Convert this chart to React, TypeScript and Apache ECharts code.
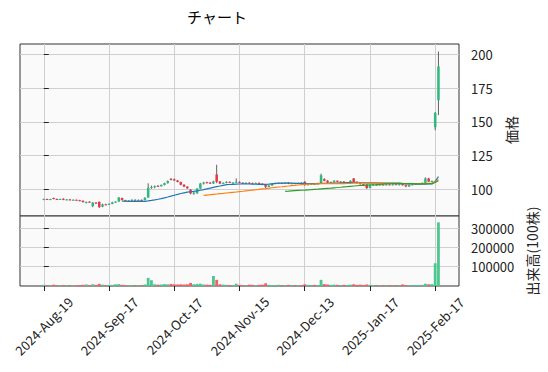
import React, { useEffect, useRef } from 'react';
import * as echarts from 'echarts';

// ---- data (trading-day index 0..121) ----
const opens = [
  92.4, 92.9, 92.4, 93.6, 92.9, 92.6, 93.1, 92.3, 92.6, 92.1,
  92.3, 92.0, 91.6, 90.2, 90.9, 87.6, 90.2, 90.8, 87.2, 88.9,
  88.7, 89.3, 90.4, 91.0, 93.6, 92.0, 91.4, 91.7, 92.3, 91.9,
  92.2, 92.0, 94.0, 101.0, 101.7, 102.6, 102.3, 103.3, 104.6, 107.8,
  107.4, 106.6, 105.4, 103.4, 102.0, 99.8, 96.8, 97.2, 100.6, 104.3,
  105.3, 105.0, 104.4, 111.0, 105.9, 104.3, 104.9, 105.6, 104.9, 105.1,
  105.6, 104.9, 104.5, 104.9, 104.6, 104.3, 104.8, 104.2, 103.4, 101.9,
  102.9, 104.3, 104.2, 104.7, 104.5, 105.1, 104.2, 104.6, 104.3, 104.8,
  105.6, 103.2, 103.9, 104.2, 103.9, 104.6, 107.6, 106.4, 105.0, 105.3,
  106.4, 105.6, 105.8, 104.9, 105.2, 108.1, 105.6, 104.5, 103.9, 103.6,
  101.0, 103.2, 103.5, 103.3, 103.6, 103.4, 103.7, 103.4, 103.8, 103.5,
  103.9, 103.1, 102.2, 103.4, 103.8, 104.2, 104.5, 104.9, 108.1, 105.8,
  146.0, 166.0,
];
const highs = [
  93.2, 93.1, 93.0, 93.9, 93.2, 93.1, 93.4, 92.8, 92.9, 92.6,
  92.5, 92.3, 91.8, 91.0, 91.2, 90.6, 90.6, 91.0, 89.4, 89.4,
  89.6, 90.8, 91.2, 94.3, 93.9, 92.3, 92.0, 92.6, 92.6, 92.5,
  92.6, 94.2, 104.5, 102.8, 102.9, 103.2, 103.6, 104.9, 106.6, 108.4,
  108.0, 107.0, 105.8, 103.9, 102.4, 100.2, 98.0, 100.9, 104.8, 105.6,
  105.7, 105.5, 106.4, 118.2, 106.3, 105.2, 106.0, 105.9, 105.4, 108.1,
  105.9, 105.3, 105.2, 105.4, 105.0, 105.1, 105.2, 104.6, 103.8, 103.2,
  104.6, 104.9, 105.0, 105.1, 105.4, 105.3, 104.9, 105.0, 105.0, 105.2,
  106.0, 104.2, 104.6, 104.6, 104.9, 111.6, 108.2, 106.9, 105.8, 106.8,
  106.6, 106.2, 106.1, 105.5, 106.8, 108.4, 105.8, 105.0, 104.3, 104.0,
  103.5, 103.9, 104.0, 103.8, 104.1, 103.9, 104.2, 104.0, 104.3, 104.1,
  104.2, 103.4, 103.6, 104.1, 104.5, 104.8, 105.1, 108.9, 108.6, 106.6,
  157.2, 202.0,
];
const lows = [
  92.0, 92.2, 92.1, 92.6, 92.3, 92.2, 92.0, 91.9, 91.8, 91.8,
  91.7, 91.2, 90.2, 89.6, 90.2, 86.8, 89.2, 86.2, 86.8, 88.4,
  88.5, 89.0, 90.0, 90.8, 91.8, 91.1, 91.0, 91.3, 91.6, 91.6,
  91.8, 91.9, 93.8, 100.4, 100.8, 101.8, 102.1, 102.9, 104.3, 106.6,
  106.2, 105.2, 103.0, 101.6, 100.4, 96.3, 96.0, 96.6, 100.2, 103.6,
  104.4, 104.0, 104.0, 104.6, 103.9, 103.9, 104.5, 104.6, 104.2, 104.8,
  104.6, 104.2, 104.1, 104.3, 103.9, 104.0, 103.9, 103.0, 101.0, 101.6,
  102.6, 103.9, 104.0, 104.2, 104.2, 103.9, 103.8, 104.1, 104.0, 104.3,
  102.7, 102.9, 103.5, 103.6, 103.6, 104.4, 106.0, 104.6, 104.5, 105.0,
  105.2, 105.2, 104.6, 104.5, 105.0, 105.3, 104.2, 103.6, 102.9, 100.4,
  100.8, 102.8, 102.9, 102.8, 103.0, 102.9, 103.1, 102.9, 103.2, 102.9,
  102.7, 101.6, 101.8, 103.0, 103.3, 103.8, 104.0, 104.6, 105.4, 105.3,
  143.8, 155.0,
];
const closes = [
  92.9, 92.4, 92.8, 92.9, 92.6, 92.9, 92.3, 92.6, 92.1, 92.3,
  92.0, 91.6, 90.6, 90.7, 90.5, 90.2, 89.6, 86.9, 88.9, 88.7,
  89.3, 90.4, 90.9, 94.0, 92.0, 91.4, 91.7, 92.3, 91.9, 92.2,
  92.0, 93.8, 101.2, 101.7, 102.3, 102.3, 103.3, 104.6, 106.2, 107.0,
  106.6, 105.5, 103.4, 102.0, 100.8, 97.0, 97.6, 100.6, 104.3, 105.0,
  104.8, 104.4, 105.9, 105.6, 104.3, 104.9, 105.6, 104.9, 105.1, 105.6,
  104.9, 104.5, 104.9, 104.6, 104.3, 104.8, 104.2, 103.4, 101.9, 102.9,
  104.3, 104.6, 104.7, 104.5, 105.1, 104.2, 104.6, 104.3, 104.8, 104.6,
  103.2, 103.9, 104.2, 103.9, 104.6, 110.4, 106.4, 105.0, 105.3, 106.4,
  105.6, 105.8, 104.9, 105.2, 106.4, 105.6, 104.5, 103.9, 103.2, 100.9,
  103.2, 103.5, 103.3, 103.6, 103.4, 103.7, 103.4, 103.8, 103.5, 103.9,
  103.1, 102.2, 103.4, 103.8, 104.2, 104.5, 104.8, 108.1, 105.8, 106.2,
  156.6, 191.0,
];
const volumes = [
  6000, 5000, 4000, 7000, 4000, 3000, 5000, 4000, 3000, 3000,
  4000, 5000, 6000, 8000, 5000, 9000, 6000, 11000, 7000, 4000,
  5000, 6000, 9000, 10000, 6000, 4000, 3000, 4000, 3000, 4000,
  3000, 8000, 42000, 30000, 9000, 7000, 8000, 10000, 9000, 11000,
  9000, 8000, 9000, 8000, 9000, 16000, 9000, 11000, 12000, 8000,
  7000, 6000, 52000, 32000, 9000, 7000, 6000, 5000, 5000, 12000,
  6000, 5000, 4000, 7000, 6000, 5000, 6000, 7000, 14000, 6000,
  5000, 4000, 6000, 4000, 5000, 6000, 5000, 4000, 5000, 4000,
  9000, 6000, 5000, 6000, 5000, 32000, 10000, 8000, 6000, 7000,
  6000, 5000, 6000, 5000, 7000, 9000, 6000, 7000, 5000, 8000,
  6000, 4000, 3000, 4000, 3000, 3000, 4000, 3000, 4000, 3000,
  8000, 5000, 4000, 3000, 4000, 5000, 6000, 12000, 9000, 10000,
  118000, 330000,
];

const tickIndices = [0, 20, 40, 60, 80, 100, 120];
const tickLabels = ['2024-Aug-19', '2024-Sep-17', '2024-Oct-17', '2024-Nov-15', '2024-Dec-13', '2025-Jan-17', '2025-Feb-17'];
const priceTicks = [100, 125, 150, 175, 200];
const volumeTicks = [100000, 200000, 300000];
const maPeriods = [25, 50, 75];

// ---- styles ----
const FONT = '"Noto Sans CJK JP", "Noto Sans", sans-serif';
const UP = '#2fb97f';
const DOWN = '#ec3646';
const WICK = '#505050';
const VUP = '#4dc790';
const VDOWN = '#f45f66';
const MA_COLORS = ['#1f77b4', '#ff7f0e', '#2ca02c'];
const GRID_LINE = '#cfcfcf';
const FRAME = '#333333';
const TEXT = '#222222';
const X_MIN = -7.3;
const X_MAX = 127.3;

function movingAverage(period: number): number[][] {
  const out: number[][] = [];
  for (let i = period - 1; i < closes.length; i++) {
    let s = 0;
    for (let k = i - period + 1; k <= i; k++) s += closes[k];
    out.push([i, s / period]);
  }
  return out;
}

export default function App() {
  const ref = useRef<HTMLDivElement>(null);
  useEffect(() => {
    if (!ref.current) return;
    const chart = echarts.init(ref.current, undefined, { renderer: 'svg' });
    const candleData = closes.map((c, i) => [i, opens[i], c, lows[i], highs[i]]);
    const volData = volumes.map((v, i) => ({
      value: [i, v],
      itemStyle: { color: closes[i] >= opens[i] ? VUP : VDOWN },
    }));
    const splitLine = { show: true, lineStyle: { color: GRID_LINE, width: 1 } };
    chart.setOption({
      animation: false,
      backgroundColor: '#ffffff',
      textStyle: { fontFamily: FONT },
      graphic: [
        {
          type: 'text', x: 217, y: 16,
          style: { text: 'チャート', align: 'center', verticalAlign: 'middle', fontSize: 15, fontFamily: FONT, fill: '#000' },
        },
      ],
      grid: [
        { left: 20, top: 44, width: 439, height: 172, show: true, backgroundColor: '#fafafa', borderColor: FRAME, borderWidth: 1 },
        { left: 20, top: 216, width: 439, height: 70, show: true, backgroundColor: '#fafafa', borderColor: FRAME, borderWidth: 1 },
      ],
      xAxis: [
        {
          type: 'value', gridIndex: 0, min: X_MIN, max: X_MAX,
          axisLine: { show: false },
          axisTick: { show: false, customValues: tickIndices },
          axisLabel: { show: false, customValues: tickIndices },
          splitLine,
        },
        {
          type: 'value', gridIndex: 1, min: X_MIN, max: X_MAX,
          axisLine: { show: false },
          axisTick: { show: true, length: 5, customValues: tickIndices, lineStyle: { color: TEXT } },
          axisLabel: {
            customValues: tickIndices,
            formatter: (v: number) => tickLabels[tickIndices.indexOf(Math.round(v))] ?? '',
            rotate: 45, align: 'center', verticalAlign: 'middle', margin: 40,
            fontSize: 13, color: TEXT, fontFamily: FONT,
          },
          splitLine,
        },
      ],
      yAxis: [
        {
          type: 'value', gridIndex: 0, position: 'right', min: 80.3, max: 207.6,
          axisLine: { show: false },
          axisTick: { show: true, length: 5, customValues: priceTicks, lineStyle: { color: TEXT } },
          axisLabel: { customValues: priceTicks, margin: 12, fontSize: 13, color: TEXT, fontFamily: FONT },
          splitLine,
          name: '価格', nameLocation: 'middle', nameRotate: 90, nameGap: 35,
          nameTextStyle: { fontSize: 14, color: TEXT, fontFamily: FONT },
        },
        {
          type: 'value', gridIndex: 1, position: 'right', min: 0, max: 363000,
          axisLine: { show: false },
          axisTick: { show: true, length: 5, customValues: volumeTicks, lineStyle: { color: TEXT } },
          axisLabel: {
            customValues: volumeTicks, margin: 12, fontSize: 13, color: TEXT, fontFamily: FONT,
            formatter: (v: number) => String(v),
          },
          splitLine,
          name: '出来高(100株)', nameLocation: 'middle', nameRotate: 90, nameGap: 61,
          nameTextStyle: { fontSize: 14, color: TEXT, fontFamily: FONT },
        },
      ],
      series: [
        {
          type: 'custom', xAxisIndex: 0, yAxisIndex: 0, data: candleData,
          encode: { x: 0, y: [1, 2, 3, 4] },
          clip: true,
          renderItem: (_params: any, api: any) => {
            const x = api.value(0);
            const o = api.value(1), c = api.value(2), l = api.value(3), h = api.value(4);
            const pO = api.coord([x, o]);
            const pC = api.coord([x, c]);
            const pL = api.coord([x, l]);
            const pH = api.coord([x, h]);
            const w = api.size([1, 0])[0] * 0.78;
            const color = c >= o ? UP : DOWN;
            const top = Math.min(pO[1], pC[1]);
            const hgt = Math.max(Math.abs(pO[1] - pC[1]), 1);
            return {
              type: 'group',
              children: [
                { type: 'line', shape: { x1: pL[0], y1: pL[1], x2: pH[0], y2: pH[1] }, style: { stroke: WICK, lineWidth: 0.9 } },
                { type: 'rect', shape: { x: pO[0] - w / 2, y: top, width: w, height: hgt }, style: { fill: color } },
              ],
            };
          },
          z: 2,
        },
        ...maPeriods.map((p, k) => ({
          type: 'line', xAxisIndex: 0, yAxisIndex: 0, data: movingAverage(p),
          symbol: 'none', showSymbol: false,
          lineStyle: { width: 1.2, color: MA_COLORS[k] },
          itemStyle: { color: MA_COLORS[k] },
          z: 3,
        })),
        {
          type: 'bar', xAxisIndex: 1, yAxisIndex: 1, data: volData, barWidth: 2.8,
        },
      ],
    });
    return () => chart.dispose();
  }, []);
  return (
    <div
      ref={ref}
      style={{ position: 'absolute', left: 0, top: 0, width: 548, height: 372 }}
    />
  );
}
